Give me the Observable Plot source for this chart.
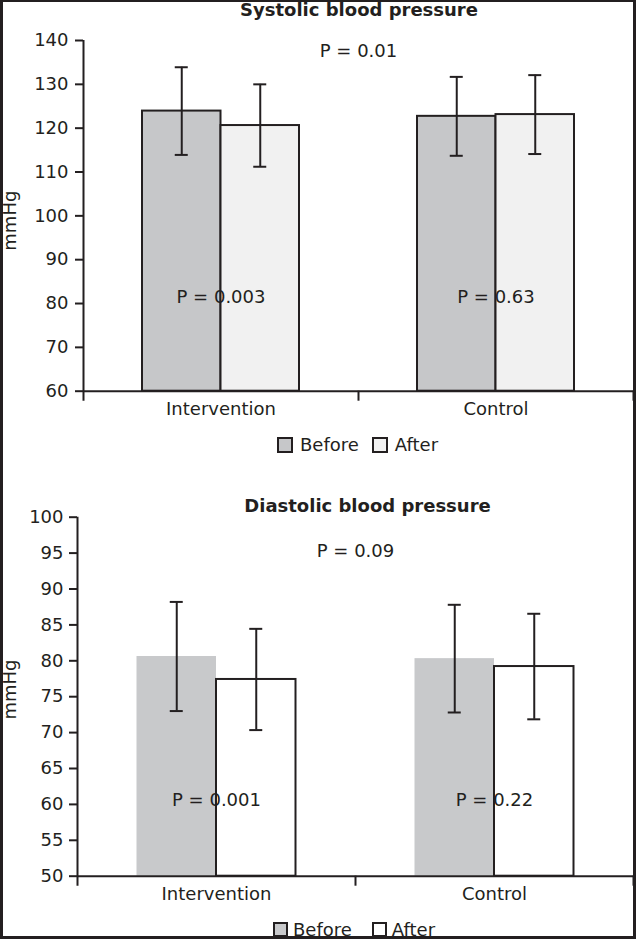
<!DOCTYPE html>
<html><head><meta charset="utf-8">
<script src="https://cdn.jsdelivr.net/npm/d3@7"></script>
<script src="https://cdn.jsdelivr.net/npm/@observablehq/plot@0.6"></script>
<style>
html,body{margin:0;padding:0;background:#fff;}
#chart{position:relative;width:636px;height:939px;overflow:hidden;font-family:"DejaVu Sans",sans-serif;color:#231f20;background:#fff;}
.abs{position:absolute;}
.title{font-weight:bold;font-size:18px;line-height:20px;height:20px;text-align:center;white-space:nowrap;width:400px;}
.legend{display:flex;align-items:center;font-size:18px;white-space:nowrap;}
.sw{box-sizing:border-box;border:2px solid #231f20;flex:none;}
#frame{position:absolute;left:0;top:0;width:636px;height:939px;box-sizing:border-box;border-style:solid;border-color:#231f20;border-width:2px 3px 3px 3px;pointer-events:none;}
</style></head>
<body>
<div id="chart"></div>
<script>
// ---- data ----
const groups = ["Intervention", "Control"];
const phases = ["Before", "After"];
const sysTitle = "Systolic blood pressure";
const diaTitle = "Diastolic blood pressure";
const yLabel = "mmHg";
// [group][phase] : mean and SD (mmHg)
const sysMean = [[123.9, 120.6], [122.7, 123.1]];
const sysSD   = [[10.0, 9.4], [9.0, 9.0]];
const diaMean = [[80.6, 77.4], [80.3, 79.2]];
const diaSD   = [[7.6, 7.05], [7.5, 7.35]];
const sysPGroup = ["P = 0.003", "P = 0.63"];
const sysPOverall = "P = 0.01";
const diaPGroup = ["P = 0.001", "P = 0.22"];
const diaPOverall = "P = 0.09";
const sysTicks = [60, 70, 80, 90, 100, 110, 120, 130, 140];
const diaTicks = [50, 55, 60, 65, 70, 75, 80, 85, 90, 95, 100];

const INK = "#231f20";

function panel(o) {
  const width = 636, marginRight = 3;
  const bw = (width - o.marginLeft - marginRight) / groups.length;
  const barW = o.barW, capW = 13;
  const rows = [];
  groups.forEach((g, gi) => phases.forEach((p, pi) =>
    rows.push({group: g, phase: p, mean: o.mean[gi][pi], sd: o.sd[gi][pi]})));
  const off = {Before: -barW / 2, After: barW / 2};
  const [ymin, ymax] = o.yDomain;
  const marks = [];
  phases.forEach((p, pi) => {
    const sub = rows.filter(d => d.phase === p);
    marks.push(Plot.barY(sub, {
      x: "group", y1: ymin, y2: "mean",
      fill: o.fills[pi], stroke: o.strokes[pi] || "none", strokeWidth: 2,
      insetLeft: pi === 0 ? bw / 2 - barW : bw / 2,
      insetRight: pi === 0 ? bw / 2 : bw / 2 - barW
    }));
  });
  marks.push(Plot.ruleY([ymin], {stroke: INK, strokeWidth: 2}));
  marks.push(Plot.ruleX([groups[0]], {x: d => d, dx: -bw / 2, y1: ymax, y2: ymin, insetBottom: -10, stroke: INK, strokeWidth: 2}));
  marks.push(Plot.ruleX(groups, {x: d => d, dx: bw / 2, y1: ymin, y2: ymin, insetBottom: -10, stroke: INK, strokeWidth: 2}));
  phases.forEach(p => {
    const sub = rows.filter(d => d.phase === p);
    marks.push(Plot.ruleX(sub, {x: "group", y1: d => d.mean - d.sd, y2: d => d.mean + d.sd, dx: off[p], stroke: INK, strokeWidth: 2}));
    for (const f of [d => d.mean - d.sd, d => d.mean + d.sd]) {
      marks.push(Plot.tickY(sub, {x: "group", y: f, dx: off[p], insetLeft: bw / 2 - capW / 2, insetRight: bw / 2 - capW / 2, stroke: INK, strokeWidth: 2}));
    }
  });
  marks.push(Plot.axisY({ticks: o.ticks, tickSize: 8, tickPadding: o.tickPadding, label: null, tickFormat: d => d, stroke: INK, strokeWidth: 2}));
  marks.push(Plot.axisX({tickSize: 0, tickPadding: 11, label: null}));
  marks.push(Plot.text([yLabel], {text: d => d, frameAnchor: "left", textAnchor: "middle", y: o.labelY, dx: 10 - o.marginLeft, rotate: -90}));
  marks.push(Plot.text([o.pOverall], {text: d => d, frameAnchor: "middle", y: o.pOverallY}));
  marks.push(Plot.text(groups.map((g, i) => ({group: g, label: o.pGroup[i]})), {x: "group", y: o.pGroupY, text: "label"}));

  return Plot.plot({
    width, height: o.height,
    marginTop: o.marginTop, marginBottom: o.marginBottom, marginLeft: o.marginLeft, marginRight,
    x: {domain: groups, padding: 0},
    y: {domain: o.yDomain},
    style: {fontFamily: "DejaVu Sans", fontSize: "18px", color: INK, background: "transparent", overflow: "visible"},
    marks
  });
}

function legend(top, left, fills, sw, gapIn, gapOut) {
  const div = document.createElement("div");
  div.className = "abs legend";
  div.style.top = top + "px";
  div.style.left = left + "px";
  div.style.height = sw + "px";
  div.style.lineHeight = sw + "px";
  phases.forEach((p, i) => {
    const s = document.createElement("div");
    s.className = "sw";
    s.style.width = sw + "px"; s.style.height = sw + "px";
    s.style.background = fills[i];
    if (i > 0) s.style.marginLeft = gapOut + "px";
    const t = document.createElement("span");
    t.textContent = p;
    t.style.marginLeft = gapIn + "px";
    div.appendChild(s); div.appendChild(t);
  });
  return div;
}

function title(text, top, cx) {
  const d = document.createElement("div");
  d.className = "abs title";
  d.textContent = text;
  d.style.top = top + "px";
  d.style.left = (cx - 200) + "px";
  return d;
}

const chart = document.getElementById("chart");

const sysFills = ["#c6c7c9", "#f1f1f1"];
const diaFills = ["#c8c9cb", "#ffffff"];

const p1 = panel({
  mean: sysMean, sd: sysSD, fills: sysFills, strokes: [INK, INK],
  yDomain: [60, 140], ticks: sysTicks, height: 425, marginTop: 40, marginBottom: 34.3, marginLeft: 83,
  tickPadding: 7, barW: 78.5, pGroup: sysPGroup, pGroupY: 81.5, pOverall: sysPOverall, pOverallY: 137.65, labelY: 98.9
});
p1.style.position = "absolute"; p1.style.left = "0px"; p1.style.top = "0px";
chart.appendChild(p1);

const p2 = panel({
  mean: diaMean, sd: diaSD, fills: diaFills, strokes: [null, INK],
  yDomain: [50, 100], ticks: diaTicks, height: 430, marginTop: 46.7, marginBottom: 24.3, marginLeft: 77,
  tickPadding: 6, barW: 79.5, pGroup: diaPGroup, pGroupY: 60.6, pOverall: diaPOverall, pOverallY: 95.2, labelY: 76.0
});
p2.style.position = "absolute"; p2.style.left = "0px"; p2.style.top = "470px";
chart.appendChild(p2);

chart.appendChild(title(sysTitle, 0, 359));
chart.appendChild(title(diaTitle, 496, 367.5));
chart.appendChild(legend(437, 277, sysFills, 16, 7, 13));
chart.appendChild(legend(922, 273, diaFills, 15, 5, 20));

const fr = document.createElement("div");
fr.id = "frame";
chart.appendChild(fr);
</script>
</body></html>
